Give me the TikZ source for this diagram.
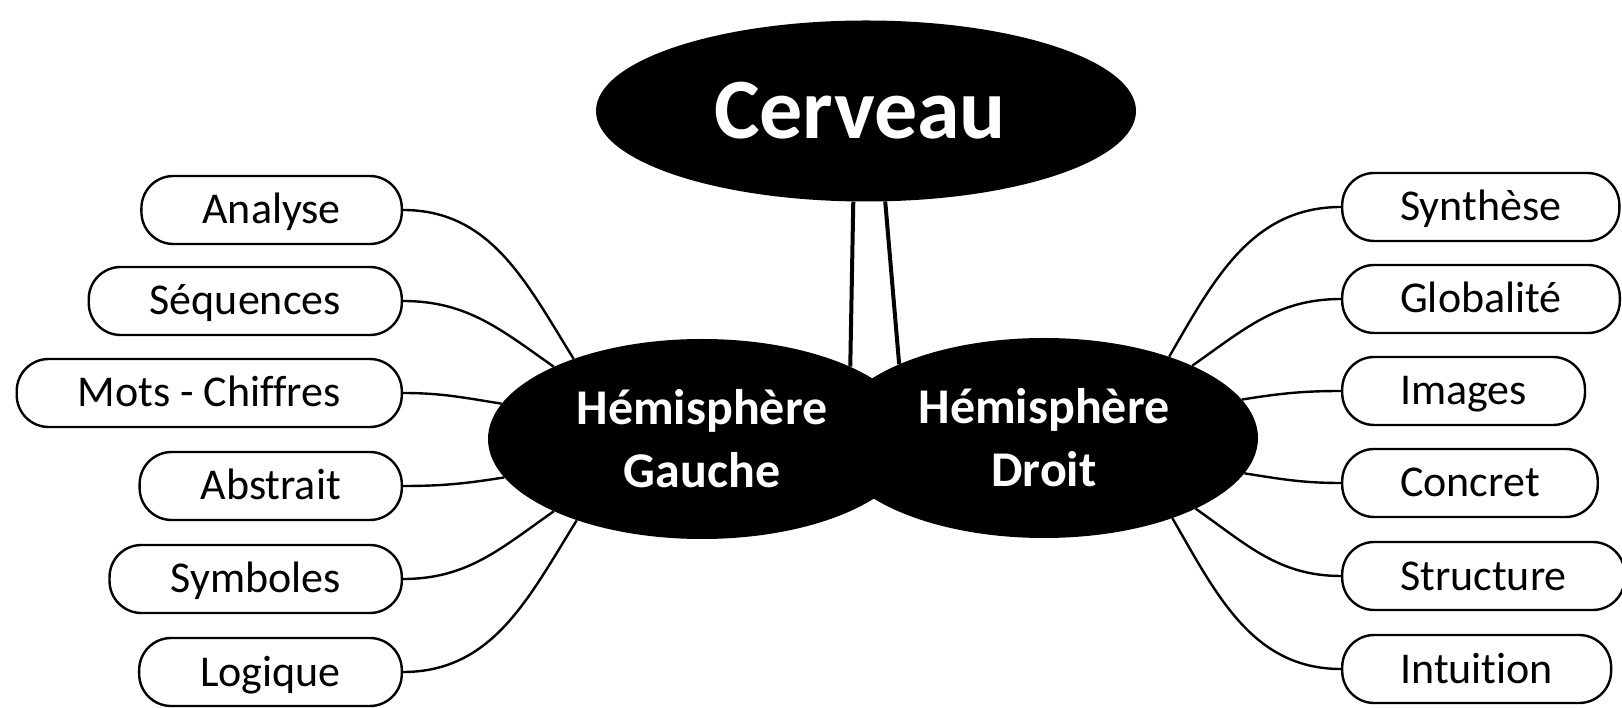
\documentclass[tikz,border=0pt]{standalone}
\usepackage{fontspec}
\setmainfont{Carlito}[Ligatures={NoCommon}]
\usetikzlibrary{shapes.geometric}
\begin{document}
\begin{tikzpicture}[x=1pt,y=1pt,
  blob/.style={ellipse, fill=black, draw=none, inner sep=0pt, text=white,
    font=\bfseries\fontsize{50}{63}\selectfont, align=center},
  lbox/.style={draw, line width=2.4pt, rounded corners=32pt, minimum height=68pt,
    inner xsep=61pt, inner ysep=0pt, text height=28pt, text depth=0pt,
    font=\fontsize{44}{53}\selectfont, anchor=east},
  rbox/.style={lbox, anchor=west, inner xsep=58pt},
  link/.style={line width=2.4pt},
  stem/.style={line width=4pt}]
\useasboundingbox (0,0) rectangle (1622,707);

% central nodes
\node[blob, minimum width=540pt, minimum height=181pt,
  font=\bfseries\fontsize{86}{100}\selectfont, text height=55pt, text depth=0pt]
  (cerv) at (866,596) {\hspace*{-12pt}Cerveau};
\node[blob, minimum width=428pt, minimum height=200pt] (hg) at (702,268) {Hémisphère\\Gauche};
\node[blob, minimum width=428pt, minimum height=200pt] (hd) at (1044,269) {Hémisphère\\Droit};

% left boxes
\node[lbox] (l1) at (403,497) {Analyse};
\node[lbox] (l2) at (403,406) {Séquences};
\node[lbox] (l3) at (403,314) {Mots - Chiffres};
\node[lbox] (l4) at (403,221) {Abstrait};
\node[lbox] (l5) at (403,128) {Symboles};
\node[lbox] (l6) at (403,35) {Logique};

% right boxes
\node[rbox] (r1) at (1341,500) {Synthèse};
\node[rbox] (r2) at (1341,408) {Globalité};
\node[rbox] (r3) at (1341,316) {Images};
\node[rbox] (r4) at (1341,224) {Concret};
\node[rbox] (r5) at (1341,131) {Structure};
\node[rbox] (r6) at (1341,38) {Intuition};

% stems
\draw[stem] (cerv.262) -- (hg.26);
\draw[stem] (cerv.282) -- (hd.153);

% left connectors
\draw[link] (l1.east) to[out=0,in=122] (hg.148);
\draw[link] (l2.east) to[out=0,in=145] (hg.154);
\draw[link] (l3.east) to[out=0,in=171] (hg.170);
\draw[link] (l4.east) to[out=0,in=189] (hg.191);
\draw[link] (l5.east) to[out=0,in=215] (hg.206);
\draw[link] (l6.east) to[out=0,in=238] (hg.213);

% right connectors
\draw[link] (r1.west) to[out=180,in=60] (hd.33);
\draw[link] (r2.west) to[out=180,in=35] (hd.26);
\draw[link] (r3.west) to[out=180,in=9] (hd.11);
\draw[link] (r4.west) to[out=180,in=351] (hd.350);
\draw[link] (r5.west) to[out=180,in=325] (hd.335);
\draw[link] (r6.west) to[out=180,in=300] (hd.328);
\end{tikzpicture}
\end{document}
